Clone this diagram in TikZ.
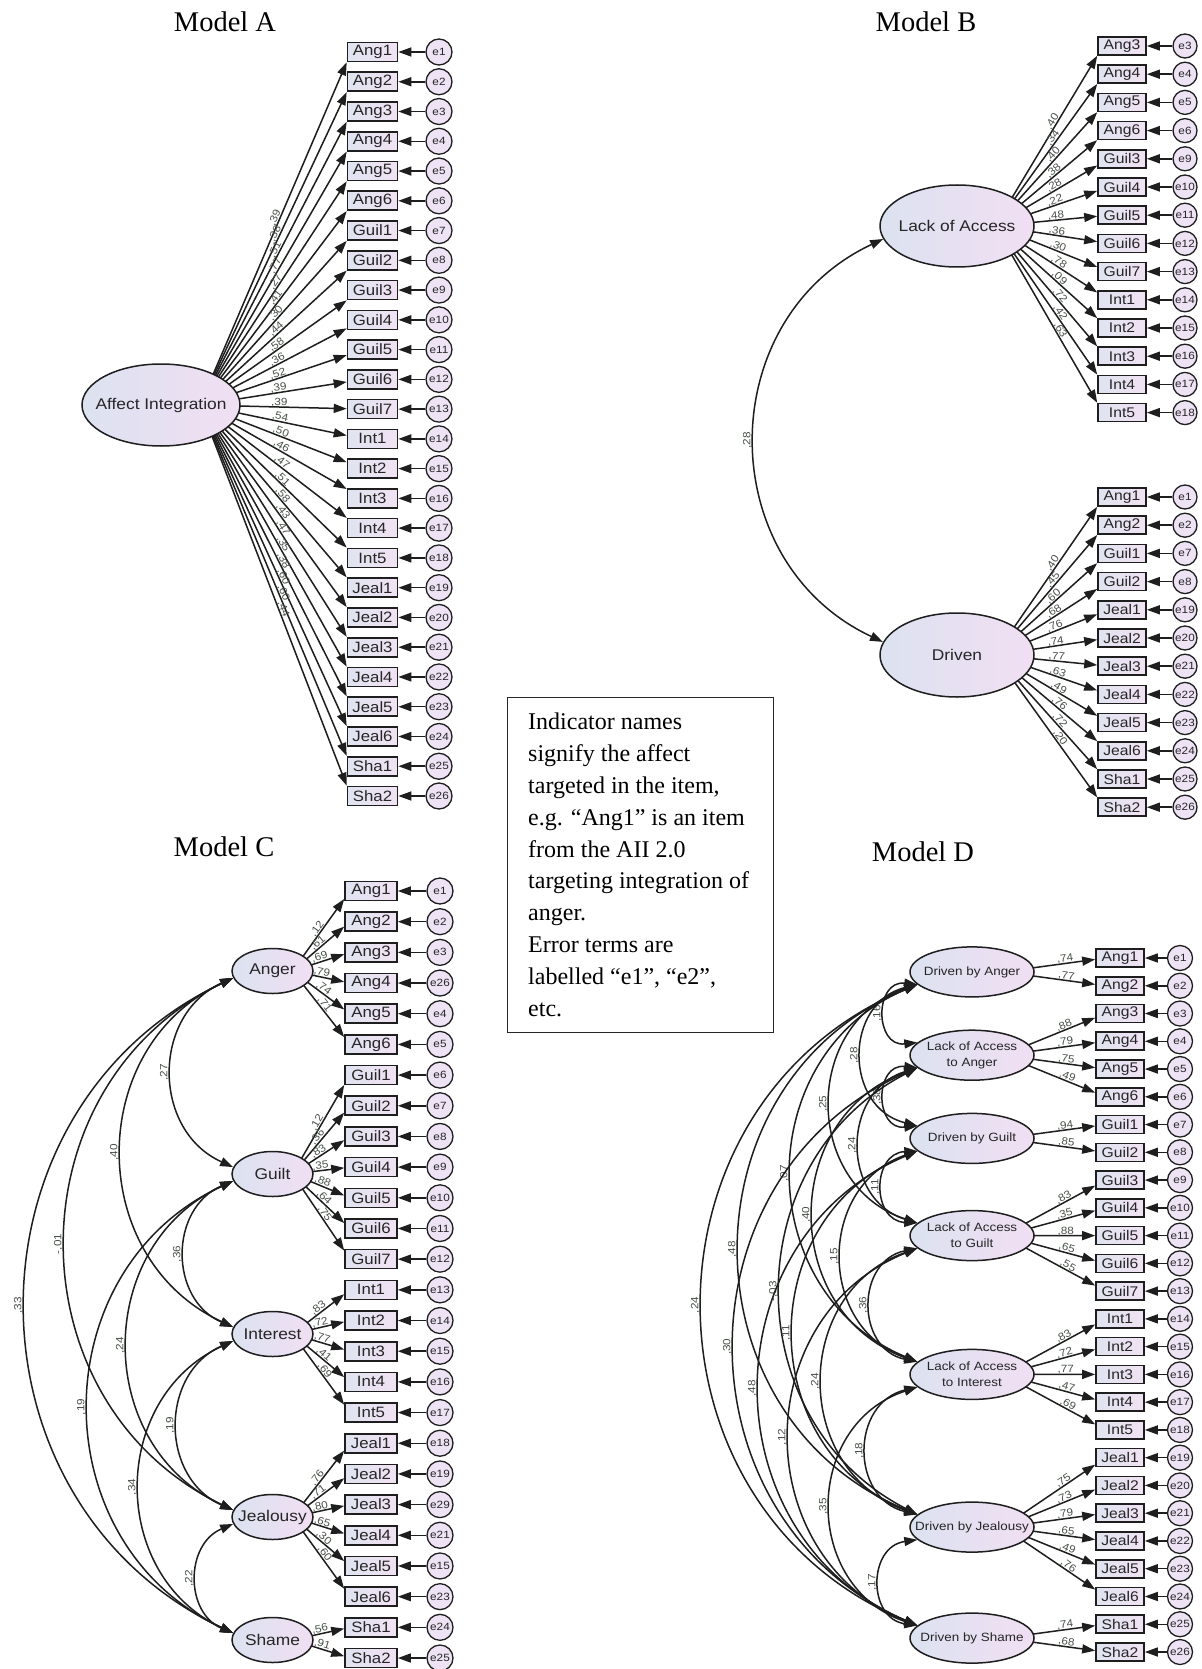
\documentclass[tikz,border=0pt]{standalone}
\usepackage{fontspec}
\setmainfont{Liberation Serif}
\newfontfamily\amos[FakeStretch=1.12]{Liberation Sans}
\newcommand\amosfs[1]{\amos\fontsize{#1}{#1}\selectfont}
\usetikzlibrary{shapes.geometric,arrows.meta,calc}
\definecolor{latL}{RGB}{220,226,240}
\definecolor{latR}{RGB}{241,223,243}
\definecolor{boxL}{RGB}{224,227,240}
\definecolor{boxR}{RGB}{240,226,243}
\definecolor{errF}{RGB}{237,227,244}
\definecolor{edgec}{RGB}{30,30,30}
\definecolor{numc}{RGB}{72,82,72}
\tikzset{
 lat/.style={ellipse, draw=edgec, line width=1.5pt, left color=latL, right color=latR, inner sep=0pt},
 latlab/.style={font=\amosfs{15.5}, text=black!85, align=center, inner sep=0pt},
 latlabD/.style={font=\amos\fontsize{12}{16}\selectfont, text=black!85, align=center, inner sep=0pt},
 ind/.style={rectangle, draw=edgec, line width=1.6pt, left color=boxL, right color=boxR, inner sep=0pt, text=black!85},
 indAC/.style={ind, minimum width=50pt, minimum height=19pt, font=\amosfs{15}},
 indBD/.style={ind, minimum width=48pt, minimum height=18pt, font=\amosfs{14}},
 err/.style={circle, draw=edgec, line width=1.3pt, fill=errF, inner sep=0pt, text=black!85, font=\amosfs{10.5}},
 load/.style={->, line width=1.5pt, draw=edgec},
 errarr/.style={->, line width=1.5pt, draw=edgec},
 covar/.style={<->, line width=1.5pt, draw=edgec},
 lab/.style={font=\amosfs{10.5}, text=numc, inner sep=1pt},
 covlab/.style={lab, rotate=90, anchor=south},
 mtitle/.style={font=\fontsize{28.5}{30}\selectfont, anchor=base, inner sep=0pt}
}
% covariance arc between two ellipse anchors, bulging left to x = #3
\newcommand\cov[4]{%
  \draw[covar] let \p1=(#1), \p2=(#2),
    \n1={(\y1-(\y2))/2}, \n2={(\x1+\x2)/2-#3},
    \n3={4/3*\n2}, \n4={2/3*(\n1-\n2/\n1*\n2)} in
    (\p1) .. controls ({\x1-(\n3)*1pt},{\y1-(\n4)*1pt}) and ({\x2-(\n3)*1pt},{\y2+(\n4)*1pt}) .. (\p2);
  \path let \p1=(#1), \p2=(#2) in
    node[covlab] at ({#3*1pt-2pt},{(\y1+(\y2))/2}) {#4};
}
% loading arrow from a focus point (hidden under the ellipse) to the box's left side
\newcommand\ldline[4]{%
  \draw[load] let \p1=(#1), \p2=(#2.south west), \p3=(#2.north west), \p4=(#2.west) in
    (\p1) -- (\x2,{max(\y2,min(\y3,\y4+0.1*(\y1-(\y4))))});
  \path let \p1=(#1), \p2=(#2.south west), \p3=(#2.north west), \p4=(#2.west) in
    (\p1) -- (\x2,{max(\y2,min(\y3,\y4+0.1*(\y1-(\y4))))}) node[lab, pos=#3, sloped, above=-1pt] {#4};
}
\begin{document}
\begin{tikzpicture}[x=1pt,y=-1pt,>={Triangle[length=13pt,width=9pt]}]
\useasboundingbox (0,0) rectangle (1201,1669);
\fill[white] (0,0) rectangle (1201,1669);

% ---------- titles ----------
\node[mtitle] (tA) at (225,32) {Model A};
\node[mtitle] (tB) at (926,32) {Model B};
\node[mtitle] (tC) at (224,856) {Model C};
\node[mtitle] (tD) at (923,861) {Model D};

% ---------- Model A ----------
\coordinate (Afoc) at (200,405);
\foreach \t/\e/\l [count=\i from 0] in {Ang1/e1/39, Ang2/e2/38, Ang3/e3/51, Ang4/e4/77, Ang5/e5/27, Ang6/e6/41, Guil1/e7/30, Guil2/e8/44, Guil3/e9/58, Guil4/e10/36, Guil5/e11/52, Guil6/e12/39, Guil7/e13/39, Int1/e14/54, Int2/e15/50, Int3/e16/46, Int4/e17/47, Int5/e18/51, Jeal1/e19/58, Jeal2/e20/43, Jeal3/e21/47, Jeal4/e22/35, Jeal5/e23/38, Jeal6/e24/60, Sha1/e25/60, Sha2/e26/44}{
  \pgfmathsetmacro\yy{52+29.76*\i}
  \node[indAC] (A\i) at (372.5,\yy) {\t};
  \node[err, minimum size=26pt] (Ae\i) at (439,\yy) {\e};
  \draw[errarr] (Ae\i) -- (A\i);
  \ldline{Afoc}{A\i}{0.54}{,\l}
}
\node[lat, minimum width=158pt, minimum height=82pt] (Alat) at (161,405) {};
\node[latlab] (Alab) at (Alat) {Affect Integration};

% ---------- Model B ----------
\coordinate (Bfoc1) at (995,226);
\coordinate (Bfoc2) at (995,655);
\foreach \t/\e/\l [count=\i from 0] in {Ang3/e3/40, Ang4/e4/34, Ang5/e5/40, Ang6/e6/38, Guil3/e9/28, Guil4/e10/22, Guil5/e11/48, Guil6/e12/36, Guil7/e13/30, Int1/e14/78, Int2/e15/09, Int3/e16/72, Int4/e17/42, Int5/e18/63}{
  \pgfmathsetmacro\yy{46+28.2*\i}
  \node[indBD] (B\i) at (1122,\yy) {\t};
  \node[err, minimum size=24pt] (Be\i) at (1185,\yy) {\e};
  \draw[errarr] (Be\i) -- (B\i);
  \ldline{Bfoc1}{B\i}{0.6}{,\l}
}
\foreach \t/\e/\l [count=\i from 0] in {Ang1/e1/40, Ang2/e2/45, Guil1/e7/60, Guil2/e8/68, Jeal1/e19/76, Jeal2/e20/74, Jeal3/e21/77, Jeal4/e22/63, Jeal5/e23/49, Jeal6/e24/76, Sha1/e25/72, Sha2/e26/20}{
  \pgfmathsetmacro\yy{497+28.2*\i}
  \node[indBD] (BB\i) at (1122,\yy) {\t};
  \node[err, minimum size=24pt] (BBe\i) at (1185,\yy) {\e};
  \draw[errarr] (BBe\i) -- (BB\i);
  \ldline{Bfoc2}{BB\i}{0.6}{,\l}
}
\node[lat, minimum width=154pt, minimum height=82pt] (Blat1) at (957,226) {};
\node[latlab] (Blab1) at (Blat1) {Lack of Access};
\node[lat, minimum width=154pt, minimum height=84pt] (Blat2) at (957,655) {};
\node[latlab] (Blab2) at (Blat2) {Driven};
\cov{Blat1.190}{Blat2.170}{755}{,28}

% ---------- note box ----------
\node[draw=black!85, line width=1pt, minimum width=266pt, minimum height=335pt, anchor=north west, inner sep=0pt] (note) at (507,697) {};
\node[anchor=north west, inner sep=0pt, align=left, font=\fontsize{24}{31.8}\selectfont] (notetxt) at (528,713) {Indicator names\\signify the affect\\targeted in the item,\\e.g. “Ang1” is an item\\from the AII 2.0\\targeting integration of\\anger.\\Error terms are\\labelled “e1”, “e2”,\\etc.};

% ---------- Model C ----------
\foreach \n/\y in {Cang/971, Cgui/1174, Cint/1334, Cjea/1517, Csha/1640}{
  \coordinate (f\n) at (292.5,\y);
}
\foreach \t/\e/\l/\f [count=\i from 0] in {Ang1/e1/12/Cang, Ang2/e2/61/Cang, Ang3/e3/69/Cang, Ang4/e26/79/Cang, Ang5/e4/74/Cang, Ang6/e5/71/Cang, Guil1/e6/12/Cgui, Guil2/e7/36/Cgui, Guil3/e8/83/Cgui, Guil4/e9/35/Cgui, Guil5/e10/88/Cgui, Guil6/e11/64/Cgui, Guil7/e12/75/Cgui, Int1/e13/83/Cint, Int2/e14/72/Cint, Int3/e15/77/Cint, Int4/e16/41/Cint, Int5/e17/69/Cint, Jeal1/e18/76/Cjea, Jeal2/e19/71/Cjea, Jeal3/e29/80/Cjea, Jeal4/e21/65/Cjea, Jeal5/e15/30/Cjea, Jeal6/e23/60/Cjea, Sha1/e24/56/Csha, Sha2/e25/91/Csha}{
  \pgfmathsetmacro\yy{891+30.68*\i}
  \node[indAC, minimum width=52pt] (C\i) at (371,\yy) {\t};
  \node[err, minimum size=26pt] (Ce\i) at (440,\yy) {\e};
  \draw[errarr] (Ce\i) -- (C\i);
  \ldline{f\f}{C\i}{0.55}{,\l}
}
\foreach \n/\y/\t in {Cang/971/Anger, Cgui/1174/Guilt, Cint/1334/Interest, Cjea/1517/Jealousy, Csha/1640/Shame}{
  \node[lat, minimum width=81pt, minimum height=45pt] (\n) at (272.5,\y) {};
  \node[latlab] (\n lab) at (\n) {\t};
}
\cov{Cang.190}{Cgui.170}{172}{,27}
\cov{Cang.190}{Cint.170}{122}{,40}
\cov{Cang.190}{Cjea.170}{66}{-,01}
\cov{Cang.190}{Csha.170}{26}{,33}
\cov{Cgui.190}{Cint.170}{185}{,36}
\cov{Cgui.190}{Cjea.170}{128}{,24}
\cov{Cgui.190}{Csha.170}{89}{,19}
\cov{Cint.190}{Cjea.170}{178}{,19}
\cov{Cint.190}{Csha.170}{140}{,34}
\cov{Cjea.190}{Csha.170}{197}{,22}

% ---------- Model D ----------
\foreach \n/\y in {DA/971.9, LA/1055.2, DG/1138.4, LG/1235.6, LI/1374.4, DJ/1527.1, DS/1638.1}{
  \coordinate (f\n) at (1003,\y);
}
\foreach \t/\e/\l/\f [count=\i from 0] in {Ang1/e1/74/DA, Ang2/e2/77/DA, Ang3/e3/88/LA, Ang4/e4/79/LA, Ang5/e5/75/LA, Ang6/e6/49/LA, Guil1/e7/94/DG, Guil2/e8/85/DG, Guil3/e9/83/LG, Guil4/e10/35/LG, Guil5/e11/88/LG, Guil6/e12/65/LG, Guil7/e13/55/LG, Int1/e14/83/LI, Int2/e15/72/LI, Int3/e16/77/LI, Int4/e17/47/LI, Int5/e18/69/LI, Jeal1/e19/75/DJ, Jeal2/e20/73/DJ, Jeal3/e21/79/DJ, Jeal4/e22/65/DJ, Jeal5/e23/49/DJ, Jeal6/e24/76/DJ, Sha1/e25/74/DS, Sha2/e26/68/DS}{
  \pgfmathsetmacro\yy{958+27.76*\i}
  \node[indBD] (D\i) at (1120,\yy) {\t};
  \node[err, minimum size=25pt] (De\i) at (1180,\yy) {\e};
  \draw[errarr] (De\i) -- (D\i);
  \ldline{f\f}{D\i}{0.68}{,\l}
}
\foreach \n/\y/\t in {DA/971.9/Driven by Anger, LA/1055.2/Lack of Access\\to Anger, DG/1138.4/Driven by Guilt, LG/1235.6/Lack of Access\\to Guilt, LI/1374.4/Lack of Access\\to Interest, DJ/1527.1/Driven by Jealousy, DS/1638.1/Driven by Shame}{
  \node[lat, minimum width=124pt, minimum height=50pt] (\n) at (972,\y) {};
  \node[latlabD] (\n lab) at (\n) {\t};
}
\cov{DA.193}{LA.167}{885}{,16}
\cov{DA.193}{DG.167}{862}{,28}
\cov{DA.193}{LG.167}{831}{,25}
\cov{DA.193}{LI.167}{792}{,07}
\cov{DA.193}{DJ.167}{740}{,48}
\cov{DA.193}{DS.167}{703}{,24}
\cov{LA.193}{DG.167}{885}{,38}
\cov{LA.193}{LG.167}{860}{,24}
\cov{LA.193}{LI.167}{814}{,40}
\cov{LA.193}{DJ.167}{781}{-,03}
\cov{LA.193}{DS.167}{735}{,30}
\cov{DG.193}{LG.167}{883}{,11}
\cov{DG.193}{LI.167}{842}{,15}
\cov{DG.193}{DJ.167}{794}{,11}
\cov{DG.193}{DS.167}{760}{,48}
\cov{LG.193}{LI.167}{871}{,36}
\cov{LG.193}{DJ.167}{823}{,24}
\cov{LG.193}{DS.167}{790}{,12}
\cov{LI.193}{DJ.167}{867}{,18}
\cov{LI.193}{DS.167}{831}{,35}
\cov{DJ.193}{DS.167}{880}{,17}
\end{tikzpicture}
\end{document}
